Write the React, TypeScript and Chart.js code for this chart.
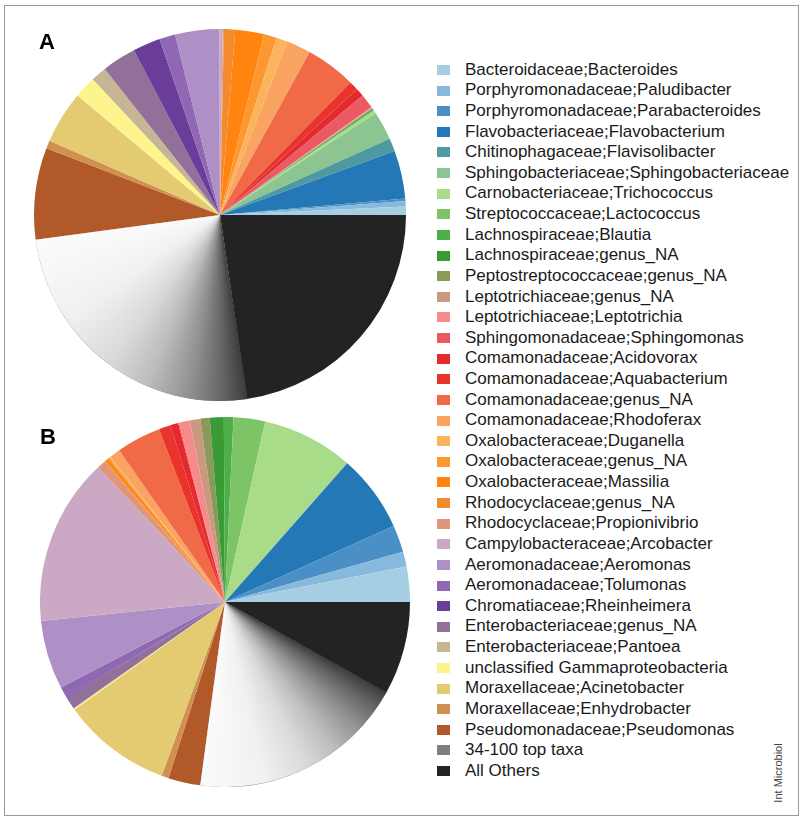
import React, { useEffect, useRef } from "react";
import { Chart, registerables } from "chart.js";

Chart.register(...registerables);

// ---------- data ----------
const taxa: string[] = [
  "Bacteroidaceae;Bacteroides",
  "Porphyromonadaceae;Paludibacter",
  "Porphyromonadaceae;Parabacteroides",
  "Flavobacteriaceae;Flavobacterium",
  "Chitinophagaceae;Flavisolibacter",
  "Sphingobacteriaceae;Sphingobacteriaceae",
  "Carnobacteriaceae;Trichococcus",
  "Streptococcaceae;Lactococcus",
  "Lachnospiraceae;Blautia",
  "Lachnospiraceae;genus_NA",
  "Peptostreptococcaceae;genus_NA",
  "Leptotrichiaceae;genus_NA",
  "Leptotrichiaceae;Leptotrichia",
  "Sphingomonadaceae;Sphingomonas",
  "Comamonadaceae;Acidovorax",
  "Comamonadaceae;Aquabacterium",
  "Comamonadaceae;genus_NA",
  "Comamonadaceae;Rhodoferax",
  "Oxalobacteraceae;Duganella",
  "Oxalobacteraceae;genus_NA",
  "Oxalobacteraceae;Massilia",
  "Rhodocyclaceae;genus_NA",
  "Rhodocyclaceae;Propionivibrio",
  "Campylobacteraceae;Arcobacter",
  "Aeromonadaceae;Aeromonas",
  "Aeromonadaceae;Tolumonas",
  "Chromatiaceae;Rheinheimera",
  "Enterobacteriaceae;genus_NA",
  "Enterobacteriaceae;Pantoea",
  "unclassified Gammaproteobacteria",
  "Moraxellaceae;Acinetobacter",
  "Moraxellaceae;Enhydrobacter",
  "Pseudomonadaceae;Pseudomonas",
  "34-100 top taxa",
  "All Others",
];

const taxaColors: string[] = [
  "#a6cee3", "#86b9dc", "#4a90c6", "#2378b5", "#4e9aa0",
  "#8cc591", "#a9dc88", "#7dc466", "#4daf4a", "#3a9a35",
  "#8a9a5b", "#cc9980", "#f78a8a", "#eb5a62", "#e42a2f",
  "#e8342b", "#f06a48", "#f9a460", "#fdb35e", "#fd9830",
  "#ff8410", "#f38a2e", "#e0967a", "#cba9c4", "#ae8fc6",
  "#8f67b2", "#6a3d9a", "#917099", "#c8b596", "#fdf48e",
  "#e4cb72", "#cf9050", "#b15928", "#808080", "#232323",
];

// relative abundance (%), sample A
const sampleA: number[] = [
  0.72, 0.47, 0.22, 4.19, 1.11,
  2.5, 0.22, 0.08, 0.06, 0.11,
  0.03, 0.06, 0.08, 1.25, 0.72,
  0.81, 4.36, 2.11, 0.97, 1.11,
  2.5, 0.97, 0.11, 0.28, 3.83,
  1.39, 2.39, 2.97, 1.36, 1.89,
  4.58, 0.69, 7.97, 25.17, 22.69,
];

// relative abundance (%), sample B
const sampleB: number[] = [
  3.06, 1.31, 2.36, 6.75, 0.03,
  0.03, 7.94, 2.75, 0.83, 1.22,
  0.81, 0.92, 0.94, 0.08, 0.69,
  1.03, 3.89, 0.94, 0.11, 0.14,
  0.28, 0.11, 0.75, 14.58, 6.0,
  1.0, 0.08, 1.0, 0.06, 0.11,
  9.53, 0.61, 2.81, 18.92, 8.17,
];

const panelLabels: string[] = ["A", "B"];
const sourceNote = "Int Microbiol";

// grey ramp used to paint the "34-100 top taxa" wedge (light -> dark)
const greyRamp: [number, string][] = [
  [0, "#fbfbfb"],
  [0.3, "#f0f0f0"],
  [0.5, "#dadada"],
  [0.65, "#bdbdbd"],
  [0.8, "#919191"],
  [0.92, "#646464"],
  [1, "#3e3e3e"],
];

const GREY_IDX = 33;

const greyPlugin = {
  id: "greyRamp",
  afterDatasetsDraw(chart: any) {
    const meta = chart.getDatasetMeta(0);
    const n = meta.data.length;
    // data is reversed: original index GREY_IDX -> position n-1-GREY_IDX
    const arc = meta.data[n - 1 - GREY_IDX];
    if (!arc) return;
    const p = arc.getProps(["x", "y", "startAngle", "endAngle", "outerRadius"], true);
    const ctx: CanvasRenderingContext2D = chart.ctx;
    const pre = 0.1;
    const TWO_PI = 2 * Math.PI;
    const g = (ctx as any).createConicGradient(p.startAngle - pre, p.x, p.y);
    const span = p.endAngle - p.startAngle;
    g.addColorStop(0, greyRamp[greyRamp.length - 1][1]);
    // start of the arc (next to "All Others") is dark, end is light
    for (const [u, c] of greyRamp) {
      g.addColorStop(Math.min(1, (pre + (1 - u) * span) / TWO_PI), c);
    }
    ctx.save();
    ctx.beginPath();
    ctx.moveTo(p.x, p.y);
    ctx.arc(p.x, p.y, p.outerRadius, p.startAngle - 0.004, p.endAngle);
    ctx.closePath();
    ctx.fillStyle = g;
    ctx.fill();
    ctx.restore();
  },
};

function PieCanvas(props: { values: number[]; left: number; top: number; size: number }) {
  const ref = useRef<HTMLCanvasElement>(null);
  useEffect(() => {
    if (!ref.current) return;
    const order = taxa.map((_, i) => i).reverse();
    const chart = new Chart(ref.current, {
      type: "pie",
      data: {
        labels: order.map((i) => taxa[i]),
        datasets: [
          {
            data: order.map((i) => props.values[i]),
            backgroundColor: order.map((i) => taxaColors[i]),
            borderWidth: 0,
            hoverOffset: 0,
            offset: 0,
          } as any,
        ],
      },
      options: {
        responsive: false,
        animation: false,
        rotation: 90,
        events: [],
        layout: { padding: 0 },
        plugins: {
          legend: { display: false },
          tooltip: { enabled: false },
        },
      },
      plugins: [greyPlugin],
    });
    return () => chart.destroy();
  }, []);
  return (
    <canvas
      ref={ref}
      width={props.size}
      height={props.size}
      style={{ position: "absolute", left: props.left, top: props.top, width: props.size, height: props.size }}
    />
  );
}

export default function App() {
  const rowStart = 70;
  const rowStep = 20.62;
  return (
    <div
      style={{
        position: "absolute",
        left: 0,
        top: 0,
        width: 801,
        height: 825,
        background: "#fff",
        fontFamily: "'Liberation Sans', Arial, sans-serif",
      }}
    >
      <div
        style={{
          position: "absolute",
          left: 4,
          top: 5,
          width: 795,
          height: 811,
          border: "1px solid #9a9a9a",
          boxSizing: "border-box",
        }}
      />
      <PieCanvas values={sampleA} left={34} top={29} size={372} />
      <PieCanvas values={sampleB} left={40} top={417} size={370} />
      <div style={{ position: "absolute", left: 39, top: 31, fontSize: 22, lineHeight: "22px", fontWeight: "bold", color: "#000" }}>
        {panelLabels[0]}
      </div>
      <div style={{ position: "absolute", left: 40, top: 426, fontSize: 22, lineHeight: "22px", fontWeight: "bold", color: "#000" }}>
        {panelLabels[1]}
      </div>
      {taxa.map((t, i) => {
        const cy = rowStart + i * rowStep;
        return (
          <React.Fragment key={t}>
            <div
              style={{
                position: "absolute",
                left: 437,
                top: cy - 5,
                width: 13,
                height: 10,
                background: taxaColors[i],
              }}
            />
            <div
              style={{
                position: "absolute",
                left: 465,
                top: cy - rowStep / 2,
                height: rowStep,
                lineHeight: rowStep + "px",
                fontSize: 17,
                color: "#1a1a1a",
                whiteSpace: "nowrap",
              }}
            >
              {t}
            </div>
          </React.Fragment>
        );
      })}
      <div
        style={{
          position: "absolute",
          left: 778 - 40,
          top: 772.5 - 7,
          width: 80,
          height: 14,
          lineHeight: "14px",
          fontSize: 11,
          textAlign: "center",
          color: "#444",
          transform: "rotate(-90deg)",
          whiteSpace: "nowrap",
        }}
      >
        {sourceNote}
      </div>
    </div>
  );
}
